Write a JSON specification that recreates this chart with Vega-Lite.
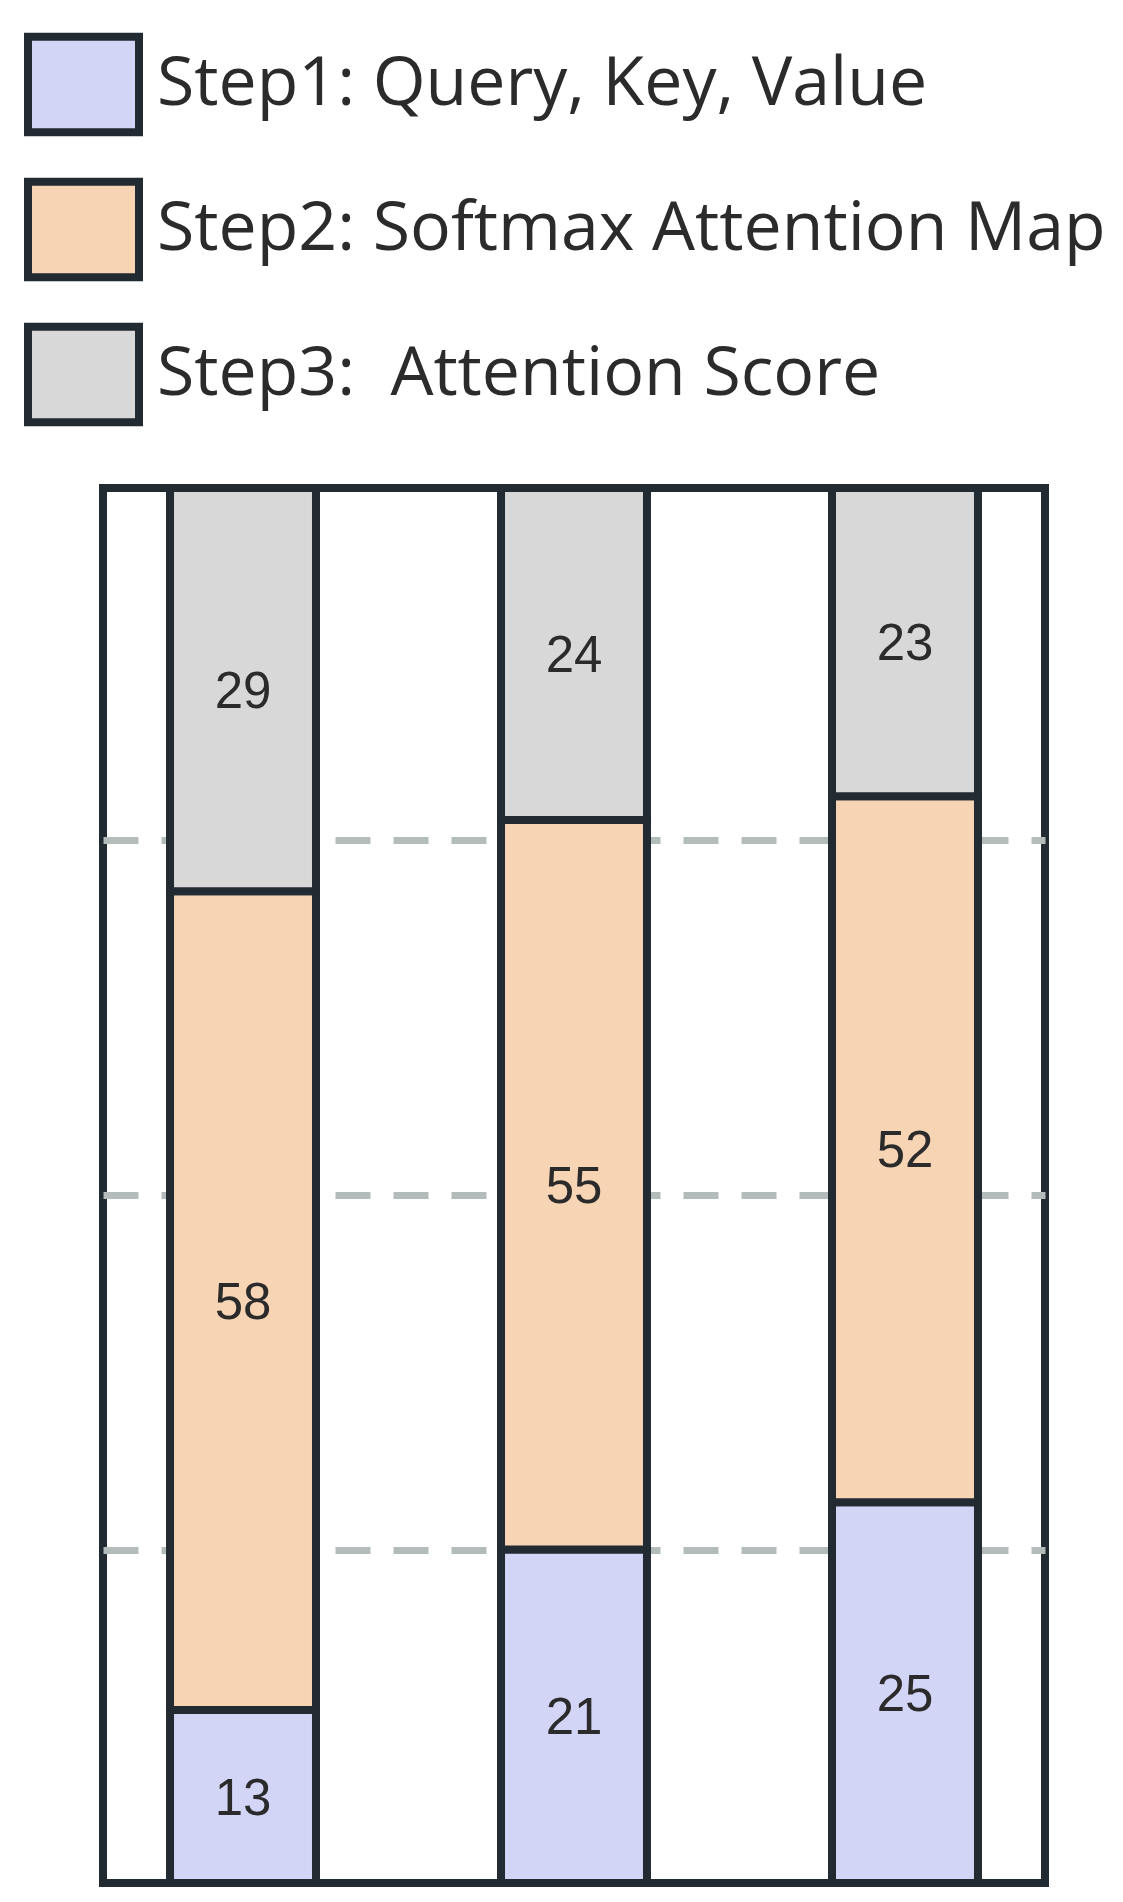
{
  "$schema": "https://vega.github.io/schema/vega-lite/v6.json",
  "width": 942,
  "height": 1395,
  "autosize": {"type": "none"},
  "padding": {"left": 103, "top": 488, "right": 78, "bottom": 19},
  "background": "white",
  "config": {"view": {"stroke": "#222a32", "strokeWidth": 8}},
  "data": {
    "values": [
      {"bar": 1, "step": "Step1: Query, Key, Value", "value": 12.4, "label": "13"},
      {"bar": 1, "step": "Step2: Softmax Attention Map", "value": 58.7, "label": "58"},
      {"bar": 1, "step": "Step3:\u00a0 Attention Score", "value": 28.9, "label": "29"},
      {"bar": 2, "step": "Step1: Query, Key, Value", "value": 23.9, "label": "21"},
      {"bar": 2, "step": "Step2: Softmax Attention Map", "value": 52.3, "label": "55"},
      {"bar": 2, "step": "Step3:\u00a0 Attention Score", "value": 23.8, "label": "24"},
      {"bar": 3, "step": "Step1: Query, Key, Value", "value": 27.3, "label": "25"},
      {"bar": 3, "step": "Step2: Softmax Attention Map", "value": 50.6, "label": "52"},
      {"bar": 3, "step": "Step3:\u00a0 Attention Score", "value": 22.1, "label": "23"}
    ]
  },
  "layer": [
    {
      "mark": {"type": "bar", "stroke": "#222a32", "strokeWidth": 8, "opacity": 1},
      "encoding": {
        "x": {"field": "bar", "type": "nominal", "axis": null,
              "scale": {"paddingInner": 0.559, "paddingOuter": 0.2025}},
        "y": {"field": "value", "type": "quantitative", "stack": "zero",
              "scale": {"domain": [0, 100], "nice": false, "zero": true},
              "axis": {"grid": true, "values": [23.9, 49.3, 74.8], "gridDash": [35, 23],
                       "gridColor": "#b3bbbb", "gridWidth": 7, "gridOpacity": 1,
                       "domain": false, "ticks": false, "labels": false, "title": null}},
        "order": {"field": "step", "sort": "ascending"},
        "color": {
          "field": "step", "type": "nominal",
          "scale": {
            "domain": ["Step1: Query, Key, Value", "Step2: Softmax Attention Map", "Step3:\u00a0 Attention Score"],
            "range": ["#d3d5f7", "#f7d4b4", "#d8d8d8"]
          },
          "legend": {
            "title": null,
            "orient": "none",
            "legendX": -79,
            "legendY": -463,
            "direction": "vertical",
            "padding": 0,
            "symbolType": "M-1,-0.86H1V0.86H-1Z",
            "symbolSize": 12321,
            "symbolStrokeColor": "#222a32",
            "symbolStrokeWidth": 8,
            "symbolOpacity": 1,
            "labelFont": "Open Sans",
            "labelFontSize": 68,
            "labelColor": "#2b2b2b",
            "labelLimit": 1200,
            "labelOffset": 14,
            "rowPadding": 16,
            "encode": {
              "symbols": {"update": {"stroke": {"value": "#222a32"}, "strokeWidth": {"value": 8}, "fillOpacity": {"value": 1}, "opacity": {"value": 1}}}
            }
          }
        }
      }
    },
    {
      "transform": [
        {"stack": "value", "groupby": ["bar"], "sort": [{"field": "step"}], "as": ["y0", "y1"]},
        {"fold": ["y0", "y1"], "as": ["edge", "pos"]},
        {"aggregate": [{"op": "mean", "field": "pos", "as": "mid"}], "groupby": ["bar", "step", "label"]}
      ],
      "mark": {"type": "text", "font": "Liberation Sans", "fontSize": 51, "fill": "#2b2b2b", "baseline": "middle", "align": "center", "dy": 3},
      "encoding": {
        "x": {"field": "bar", "type": "nominal", "axis": null},
        "y": {"field": "mid", "type": "quantitative"},
        "text": {"field": "label"}
      }
    }
  ]
}
